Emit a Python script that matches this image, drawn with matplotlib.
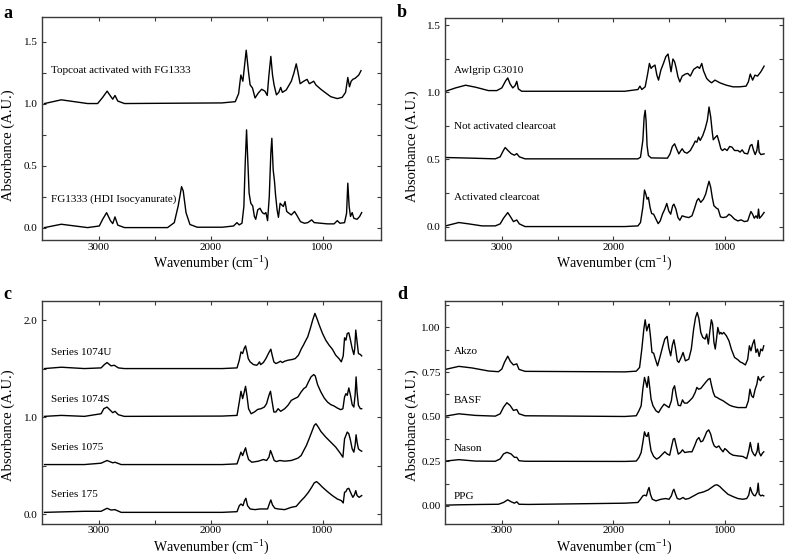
import matplotlib
matplotlib.use("Agg")
import matplotlib.pyplot as plt

plt.rcParams["font.family"] = ["Liberation Serif", "DejaVu Serif"]
plt.rcParams["mathtext.fontset"] = "custom"
plt.rcParams["mathtext.rm"] = "Liberation Serif"

# ---- spectra: (wavenumber cm-1, absorbance) ----
# panel a
topcoat = [(3485, 1.0), (3335, 1.03), (3100, 1.0), (3010, 1.0), (2965, 1.05), (2925, 1.10), (2895, 1.06),
           (2875, 1.035), (2855, 1.065), (2830, 1.02), (2770, 1.0), (1900, 1.005), (1780, 1.015), (1750, 1.08),
           (1730, 1.23), (1712, 1.18), (1682, 1.43), (1661, 1.25), (1647, 1.15), (1626, 1.125), (1603, 1.045),
           (1574, 1.085), (1544, 1.115), (1515, 1.10), (1494, 1.065), (1480, 1.22), (1462, 1.38), (1447, 1.23),
           (1433, 1.15), (1412, 1.07), (1391, 1.09), (1374, 1.13), (1359, 1.09), (1324, 1.11), (1279, 1.18),
           (1256, 1.245), (1235, 1.32), (1221, 1.26), (1200, 1.16), (1168, 1.18), (1138, 1.195), (1118, 1.16),
           (1097, 1.17), (1079, 1.18), (1059, 1.15), (1015, 1.115), (971, 1.085), (926, 1.055), (868, 1.04),
           (824, 1.05), (794, 1.09), (774, 1.21), (759, 1.135), (744, 1.18), (729, 1.195), (706, 1.205),
           (676, 1.23), (656, 1.265)]
fg1333 = [(3485, 0.0), (3335, 0.027), (3100, 0.0), (2995, 0.013), (2965, 0.067), (2930, 0.12), (2895, 0.055),
          (2875, 0.032), (2855, 0.086), (2830, 0.02), (2770, 0.0), (2385, 0.0), (2325, 0.04), (2290, 0.175),
          (2260, 0.33), (2245, 0.295), (2220, 0.12), (2185, 0.025), (2120, 0.003), (1895, 0.003), (1795, 0.013),
          (1765, 0.04), (1745, 0.022), (1720, 0.035), (1703, 0.17), (1691, 0.52), (1679, 0.788), (1667, 0.52),
          (1656, 0.277), (1641, 0.196), (1624, 0.175), (1609, 0.09), (1597, 0.067), (1579, 0.143), (1559, 0.156),
          (1538, 0.121), (1520, 0.11), (1506, 0.121), (1491, 0.056), (1476, 0.25), (1462, 0.60), (1453, 0.72),
          (1441, 0.465), (1429, 0.37), (1420, 0.265), (1406, 0.143), (1394, 0.083), (1379, 0.196), (1365, 0.183),
          (1350, 0.17), (1335, 0.21), (1320, 0.13), (1300, 0.116), (1279, 0.102), (1250, 0.13), (1226, 0.094),
          (1197, 0.048), (1162, 0.035), (1132, 0.04), (1097, 0.062), (1074, 0.04), (1015, 0.035), (956, 0.03),
          (897, 0.03), (868, 0.056), (844, 0.035), (803, 0.04), (785, 0.116), (774, 0.358), (762, 0.17),
          (750, 0.09), (735, 0.121), (720, 0.075), (691, 0.067), (668, 0.09), (650, 0.121)]

# panel b
awlgrip = [(3505, 1.007), (3415, 1.032), (3325, 1.052), (3235, 1.037), (3120, 1.012), (3045, 1.012), (3000, 1.032),
           (2965, 1.086), (2947, 1.106), (2926, 1.062), (2902, 1.032), (2881, 1.049), (2866, 1.081), (2852, 1.025),
           (2822, 1.007), (1897, 1.007), (1779, 1.02), (1761, 1.045), (1744, 1.02), (1714, 1.04), (1691, 1.14),
           (1676, 1.214), (1661, 1.177), (1647, 1.19), (1626, 1.202), (1609, 1.127), (1594, 1.09), (1573, 1.165),
           (1550, 1.214), (1529, 1.264), (1509, 1.284), (1494, 1.214), (1482, 1.152), (1465, 1.247), (1450, 1.227),
           (1435, 1.177), (1420, 1.115), (1403, 1.077), (1382, 1.12), (1353, 1.135), (1332, 1.14), (1309, 1.12),
           (1279, 1.17), (1244, 1.19), (1226, 1.177), (1206, 1.214), (1191, 1.16), (1162, 1.102), (1138, 1.082),
           (1118, 1.07), (1088, 1.09), (1044, 1.07), (985, 1.052), (926, 1.04), (868, 1.04), (809, 1.045),
           (788, 1.077), (771, 1.135), (750, 1.09), (729, 1.127), (706, 1.12), (676, 1.152), (647, 1.194)]
not_activated = [(3505, 0.514), (3267, 0.509), (3059, 0.504), (3015, 0.519), (2985, 0.568), (2970, 0.588),
                 (2947, 0.568), (2917, 0.543), (2887, 0.531), (2866, 0.543), (2843, 0.519), (2792, 0.504),
                 (1897, 0.504), (1779, 0.504), (1756, 0.516), (1735, 0.641), (1723, 0.816), (1714, 0.865),
                 (1706, 0.791), (1697, 0.603), (1685, 0.529), (1661, 0.511), (1514, 0.509), (1491, 0.541),
                 (1470, 0.596), (1450, 0.616), (1432, 0.579), (1412, 0.541), (1397, 0.561), (1382, 0.579),
                 (1362, 0.554), (1338, 0.546), (1309, 0.566), (1279, 0.611), (1265, 0.636), (1250, 0.628),
                 (1235, 0.666), (1220, 0.641), (1197, 0.678), (1176, 0.728), (1156, 0.791), (1141, 0.89),
                 (1126, 0.816), (1112, 0.703), (1103, 0.646), (1088, 0.661), (1068, 0.678), (1050, 0.628),
                 (1035, 0.579), (1021, 0.566), (1000, 0.579), (979, 0.566), (956, 0.596), (935, 0.591),
                 (912, 0.566), (882, 0.566), (862, 0.554), (844, 0.571), (824, 0.546), (794, 0.541), (771, 0.603),
                 (756, 0.611), (741, 0.566), (727, 0.536), (712, 0.566), (700, 0.641), (691, 0.554), (676, 0.536),
                 (647, 0.541)]
activated = [(3505, 0.005), (3386, 0.03), (3297, 0.02), (3178, 0.005), (3059, 0.005), (3015, 0.02), (2985, 0.062),
             (2947, 0.104), (2923, 0.074), (2896, 0.037), (2866, 0.049), (2843, 0.02), (2792, 0.0), (1897, 0.0),
             (1779, 0.005), (1756, 0.03), (1735, 0.142), (1720, 0.272), (1708, 0.242), (1697, 0.204), (1685, 0.217),
             (1670, 0.142), (1656, 0.097), (1638, 0.092), (1617, 0.055), (1597, 0.022), (1579, 0.042),
             (1559, 0.092), (1538, 0.13), (1520, 0.172), (1503, 0.117), (1485, 0.092), (1467, 0.155),
             (1456, 0.167), (1438, 0.13), (1420, 0.067), (1403, 0.047), (1382, 0.08), (1353, 0.072), (1323, 0.067),
             (1294, 0.08), (1273, 0.13), (1250, 0.192), (1235, 0.209), (1215, 0.18), (1191, 0.204), (1171, 0.242),
             (1156, 0.292), (1141, 0.337), (1126, 0.292), (1112, 0.217), (1097, 0.155), (1074, 0.137),
             (1059, 0.13), (1038, 0.072), (1015, 0.067), (985, 0.072), (962, 0.092), (941, 0.08), (912, 0.055),
             (882, 0.042), (853, 0.05), (824, 0.037), (794, 0.042), (779, 0.08), (765, 0.112), (750, 0.092),
             (735, 0.062), (720, 0.08), (706, 0.062), (697, 0.13), (688, 0.062), (668, 0.08), (647, 0.105)]

# panel c
s1074u = [(3485, 1.5), (3335, 1.514), (3128, 1.5), (2979, 1.507), (2950, 1.541), (2926, 1.562), (2890, 1.528),
          (2861, 1.534), (2825, 1.507), (2772, 1.5), (1897, 1.5), (1764, 1.507), (1744, 1.586), (1729, 1.672),
          (1714, 1.655), (1700, 1.707), (1688, 1.734), (1676, 1.672), (1664, 1.603), (1647, 1.569), (1617, 1.541),
          (1588, 1.534), (1573, 1.552), (1564, 1.569), (1553, 1.541), (1529, 1.562), (1506, 1.603), (1491, 1.638),
          (1476, 1.672), (1462, 1.70), (1450, 1.638), (1435, 1.569), (1417, 1.552), (1397, 1.562), (1376, 1.576),
          (1359, 1.562), (1338, 1.576), (1309, 1.586), (1273, 1.593), (1244, 1.603), (1215, 1.638), (1191, 1.70),
          (1171, 1.741), (1156, 1.776), (1132, 1.828), (1109, 1.914), (1088, 2.0), (1068, 2.069), (1050, 2.017),
          (1029, 1.948), (1000, 1.862), (971, 1.793), (941, 1.741), (912, 1.70), (882, 1.638), (853, 1.603),
          (832, 1.569), (815, 1.631), (803, 1.817), (791, 1.793), (779, 1.862), (765, 1.869), (750, 1.793),
          (735, 1.707), (720, 1.645), (712, 1.707), (703, 1.897), (691, 1.776), (679, 1.655), (662, 1.645),
          (650, 1.631)]
s1074s = [(3485, 1.007), (3335, 1.017), (3128, 1.007), (2979, 1.034), (2955, 1.086), (2926, 1.103), (2896, 1.069),
          (2875, 1.045), (2855, 1.059), (2825, 1.024), (2772, 1.007), (1897, 1.01), (1764, 1.017), (1744, 1.155),
          (1729, 1.266), (1714, 1.19), (1703, 1.241), (1688, 1.317), (1676, 1.224), (1661, 1.086), (1638, 1.034),
          (1609, 1.052), (1579, 1.079), (1550, 1.086), (1520, 1.103), (1500, 1.138), (1479, 1.224), (1465, 1.266),
          (1450, 1.155), (1435, 1.052), (1417, 1.052), (1397, 1.086), (1374, 1.059), (1338, 1.086), (1309, 1.121),
          (1279, 1.172), (1250, 1.19), (1220, 1.207), (1191, 1.259), (1168, 1.293), (1147, 1.31), (1126, 1.362),
          (1103, 1.414), (1079, 1.438), (1065, 1.424), (1044, 1.334), (1015, 1.259), (985, 1.197), (956, 1.155),
          (926, 1.128), (897, 1.114), (868, 1.093), (838, 1.076), (818, 1.086), (803, 1.207), (791, 1.241),
          (779, 1.224), (765, 1.30), (750, 1.224), (735, 1.128), (720, 1.103), (709, 1.224), (700, 1.414),
          (691, 1.255), (679, 1.121), (662, 1.086), (650, 1.086)]
s1075 = [(3485, 0.51), (3128, 0.51), (2979, 0.524), (2926, 0.552), (2875, 0.528), (2855, 0.534), (2800, 0.51),
         (1897, 0.51), (1764, 0.517), (1744, 0.586), (1729, 0.638), (1714, 0.603), (1703, 0.638), (1688, 0.683),
         (1676, 0.621), (1661, 0.562), (1632, 0.534), (1573, 0.545), (1529, 0.562), (1500, 0.552), (1479, 0.586),
         (1465, 0.655), (1450, 0.61), (1432, 0.552), (1412, 0.541), (1382, 0.552), (1338, 0.545), (1279, 0.552),
         (1220, 0.576), (1191, 0.603), (1168, 0.655), (1144, 0.707), (1120, 0.776), (1097, 0.845), (1074, 0.914),
         (1059, 0.931), (1038, 0.897), (1015, 0.852), (971, 0.793), (926, 0.741), (882, 0.69), (838, 0.621),
         (818, 0.586), (803, 0.776), (791, 0.81), (779, 0.845), (765, 0.828), (750, 0.759), (735, 0.672),
         (720, 0.638), (709, 0.707), (700, 0.817), (691, 0.741), (679, 0.672), (662, 0.655), (650, 0.648)]
s175 = [(3485, 0.017), (3128, 0.028), (2979, 0.028), (2926, 0.059), (2890, 0.041), (2855, 0.045), (2800, 0.017),
        (1897, 0.017), (1764, 0.024), (1744, 0.086), (1729, 0.103), (1711, 0.086), (1697, 0.138), (1685, 0.162),
        (1670, 0.086), (1647, 0.052), (1603, 0.045), (1559, 0.052), (1520, 0.052), (1491, 0.052), (1476, 0.103),
        (1462, 0.145), (1447, 0.093), (1426, 0.059), (1397, 0.052), (1338, 0.045), (1279, 0.069), (1235, 0.079),
        (1191, 0.138), (1162, 0.172), (1126, 0.224), (1097, 0.276), (1074, 0.321), (1053, 0.334), (1029, 0.31),
        (1000, 0.276), (956, 0.231), (912, 0.19), (868, 0.155), (832, 0.138), (815, 0.114), (803, 0.224),
        (791, 0.231), (779, 0.259), (765, 0.265), (750, 0.224), (729, 0.172), (715, 0.197), (703, 0.241),
        (691, 0.19), (673, 0.172), (650, 0.19)]

# panel d
akzo = [(3505, 0.765), (3386, 0.782), (3267, 0.773), (3119, 0.756), (3030, 0.752), (3000, 0.767), (2976, 0.805),
        (2947, 0.839), (2923, 0.809), (2896, 0.79), (2866, 0.796), (2846, 0.765), (2792, 0.754), (1897, 0.751),
        (1794, 0.755), (1764, 0.776), (1744, 0.879), (1726, 0.991), (1714, 1.043), (1700, 0.981), (1688, 1.006),
        (1679, 1.019), (1667, 0.953), (1653, 0.86), (1638, 0.856), (1624, 0.826), (1603, 0.785), (1582, 0.832),
        (1559, 0.888), (1538, 0.935), (1517, 0.95), (1503, 0.888), (1485, 0.841), (1470, 0.901), (1456, 0.931),
        (1441, 0.879), (1426, 0.813), (1412, 0.804), (1391, 0.832), (1374, 0.86), (1353, 0.813), (1323, 0.822),
        (1300, 0.879), (1279, 0.991), (1262, 1.056), (1247, 1.084), (1232, 1.05), (1215, 0.972), (1197, 0.944),
        (1176, 0.935), (1162, 0.963), (1147, 0.907), (1135, 0.972), (1120, 1.043), (1109, 1.019), (1097, 0.916),
        (1085, 0.879), (1074, 0.935), (1062, 1.0), (1047, 0.963), (1035, 0.972), (1024, 0.963), (1009, 0.972),
        (985, 0.953), (962, 0.925), (941, 0.879), (912, 0.832), (882, 0.819), (862, 0.807), (838, 0.80),
        (815, 0.79), (794, 0.822), (779, 0.897), (765, 0.869), (750, 0.907), (735, 0.931), (720, 0.86),
        (706, 0.879), (691, 0.838), (676, 0.879), (662, 0.869), (650, 0.897)]
basf = [(3505, 0.503), (3386, 0.516), (3237, 0.507), (3059, 0.503), (3015, 0.516), (2985, 0.553), (2955, 0.578),
        (2926, 0.563), (2896, 0.535), (2866, 0.54), (2846, 0.516), (2792, 0.505), (1897, 0.501), (1794, 0.505),
        (1770, 0.533), (1750, 0.561), (1735, 0.654), (1720, 0.72), (1708, 0.692), (1697, 0.664), (1685, 0.725),
        (1673, 0.664), (1661, 0.598), (1644, 0.561), (1617, 0.533), (1594, 0.523), (1567, 0.551), (1544, 0.57),
        (1523, 0.561), (1500, 0.551), (1479, 0.589), (1465, 0.654), (1450, 0.673), (1435, 0.617), (1417, 0.564),
        (1397, 0.561), (1379, 0.594), (1362, 0.576), (1338, 0.576), (1315, 0.589), (1288, 0.607), (1265, 0.636),
        (1250, 0.664), (1235, 0.654), (1215, 0.658), (1191, 0.677), (1168, 0.695), (1147, 0.71), (1132, 0.714),
        (1118, 0.673), (1103, 0.636), (1088, 0.613), (1068, 0.607), (1044, 0.598), (1015, 0.589), (985, 0.576),
        (956, 0.564), (926, 0.557), (882, 0.551), (838, 0.551), (809, 0.551), (788, 0.589), (774, 0.654),
        (759, 0.617), (744, 0.607), (727, 0.654), (712, 0.682), (700, 0.725), (691, 0.71), (679, 0.701),
        (668, 0.718), (650, 0.725)]
nason = [(3505, 0.251), (3386, 0.259), (3237, 0.251), (3059, 0.25), (3015, 0.263), (2985, 0.291), (2955, 0.30),
         (2917, 0.291), (2887, 0.272), (2866, 0.272), (2846, 0.253), (2792, 0.25), (1897, 0.249), (1794, 0.251),
         (1770, 0.271), (1750, 0.299), (1735, 0.355), (1720, 0.415), (1708, 0.393), (1697, 0.389), (1685, 0.411),
         (1673, 0.355), (1661, 0.308), (1638, 0.277), (1612, 0.262), (1588, 0.271), (1559, 0.29), (1538, 0.303),
         (1515, 0.29), (1494, 0.284), (1476, 0.336), (1462, 0.374), (1450, 0.378), (1435, 0.336), (1417, 0.29),
         (1397, 0.299), (1379, 0.314), (1359, 0.299), (1323, 0.303), (1294, 0.303), (1271, 0.336), (1250, 0.37),
         (1232, 0.383), (1215, 0.359), (1197, 0.364), (1176, 0.393), (1162, 0.415), (1144, 0.426), (1126, 0.402),
         (1109, 0.359), (1094, 0.336), (1074, 0.327), (1053, 0.336), (1035, 0.318), (1015, 0.303), (1000, 0.321),
         (985, 0.314), (956, 0.295), (926, 0.284), (882, 0.28), (838, 0.277), (803, 0.265), (785, 0.308),
         (771, 0.355), (756, 0.308), (741, 0.29), (727, 0.28), (709, 0.308), (700, 0.351), (691, 0.299),
         (676, 0.28), (662, 0.295), (650, 0.303)]
ppg = [(3505, 0.004), (3386, 0.006), (3178, 0.008), (3030, 0.009), (2985, 0.019), (2947, 0.034), (2917, 0.023),
       (2887, 0.015), (2866, 0.023), (2846, 0.009), (2760, 0.008), (1897, 0.015), (1779, 0.019), (1756, 0.037),
       (1735, 0.056), (1720, 0.06), (1703, 0.056), (1688, 0.09), (1679, 0.103), (1667, 0.065), (1650, 0.037),
       (1617, 0.028), (1573, 0.037), (1529, 0.041), (1500, 0.037), (1479, 0.056), (1465, 0.084), (1456, 0.093),
       (1441, 0.065), (1426, 0.041), (1403, 0.037), (1374, 0.047), (1353, 0.037), (1323, 0.041), (1279, 0.056),
       (1235, 0.071), (1191, 0.078), (1147, 0.09), (1118, 0.103), (1088, 0.116), (1068, 0.118), (1044, 0.108),
       (1015, 0.09), (971, 0.065), (926, 0.052), (882, 0.041), (838, 0.037), (803, 0.041), (785, 0.06),
       (771, 0.103), (756, 0.075), (741, 0.06), (727, 0.056), (709, 0.078), (700, 0.127), (691, 0.065),
       (676, 0.056), (662, 0.06), (650, 0.056)]

x_ticks = [3000, 2500, 2000, 1500, 1000]
x_tick_labels = ["3000", "", "2000", "", "1000"]
ab_yticks = [0.0, 0.25, 0.5, 0.75, 1.0, 1.25, 1.5]
ab_ylabels = ["0.0", "", "0.5", "", "1.0", "", "1.5"]
c_yticks = [0.0, 0.5, 1.0, 1.5, 2.0]
c_ylabels = ["0.0", "", "1.0", "", "2.0"]
d_yticks = [0.0, 0.125, 0.25, 0.375, 0.5, 0.625, 0.75, 0.875, 1.0, 1.125]
d_ylabels = ["0.00", "", "0.25", "", "0.50", "", "0.75", "", "1.00", ""]

SPINE = "#3a3a3a"
W, H = 785, 557


def px_axes(fig, left, top, right, bottom):
    return fig.add_axes([left / W, 1 - bottom / H, (right - left) / W, (bottom - top) / H])


def draw_panel(ax, spectra, names, name_y, ylim, yticks, ylabels, ylab_y):
    for spec in spectra:
        wn, ab = zip(*spec)
        ax.plot(wn, ab, color="black", lw=1.0)
    for name, y in zip(names, name_y):
        ax.text(3430, y, name, fontsize=8, va="center", ha="left")
    ax.set_xlim(3510, 480)
    ax.set_ylim(*ylim)
    ax.set_xticks(x_ticks)
    ax.set_xticklabels(x_tick_labels)
    ax.set_yticks(yticks)
    ax.set_yticklabels(ylabels)
    ax.tick_params(direction="in", top=True, right=True, length=3, width=0.8,
                   labelsize=8, color=SPINE, pad=3)
    ax.tick_params(axis="x", pad=2)
    for s in ax.spines.values():
        s.set_color(SPINE)
        s.set_linewidth(1.0)
    ax.set_xlabel("Wavenumber (cm$^{-1}$)", fontsize=10, labelpad=1)
    ax.set_ylabel("Absorbance (A.U.)", fontsize=10.5)
    # label anchor is its right edge (text runs to the left of it)
    ax.yaxis.set_label_coords(-0.078, ylab_y)


fig = plt.figure(figsize=(7.85, 5.57), dpi=100)

ax_a = px_axes(fig, 41.7, 16.7, 380.7, 240)
draw_panel(ax_a, [topcoat, fg1333],
           ["Topcoat activated with FG1333", "FG1333 (HDI Isocyanurate)"], [1.265, 0.23],
           (-0.1, 1.7), ab_yticks, ab_ylabels, 0.425)

ax_b = px_axes(fig, 445, 18.3, 782.7, 240)
draw_panel(ax_b, [awlgrip, not_activated, activated],
           ["Awlgrip G3010", "Not activated clearcoat", "Activated clearcoat"], [1.16, 0.745, 0.22],
           (-0.1, 1.55), ab_yticks, ab_ylabels, 0.425)

ax_c = px_axes(fig, 41.7, 300.7, 380.7, 523.7)
draw_panel(ax_c, [s1074u, s1074s, s1075, s175],
           ["Series 1074U", "Series 1074S", "Series 1075", "Series 175"], [1.67, 1.18, 0.69, 0.2],
           (-0.1, 2.2), c_yticks, c_ylabels, 0.44)

ax_d = px_axes(fig, 445, 300.7, 782.7, 523.7)
draw_panel(ax_d, [akzo, basf, nason, ppg],
           ["Akzo", "BASF", "Nason", "PPG"], [0.865, 0.59, 0.323, 0.055],
           (-0.1, 1.15), d_yticks, d_ylabels, 0.44)

# panel letters
for letter, x, y in [("a", 3, 18), ("b", 397, 17), ("c", 3, 299), ("d", 397, 299)]:
    fig.text(x / W, 1 - y / H, letter, fontsize=13, fontweight="bold", ha="left", va="baseline")

fig.savefig("out.png", dpi=100)
